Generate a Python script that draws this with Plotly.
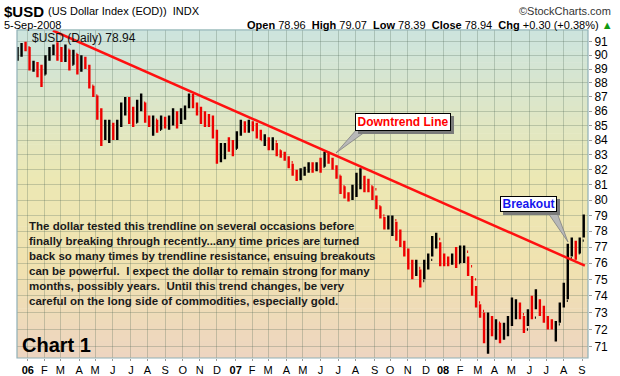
import plotly.graph_objects as go

# ---------------- data (weekly OHLC) ----------------
dates = ["2005-12-16","2005-12-23","2005-12-30","2006-01-06","2006-01-13","2006-01-20","2006-01-27",
"2006-02-03","2006-02-10","2006-02-17","2006-02-24","2006-03-03","2006-03-10","2006-03-17","2006-03-24",
"2006-03-31","2006-04-07","2006-04-14","2006-04-21","2006-04-28","2006-05-05","2006-05-12","2006-05-19",
"2006-05-26","2006-06-02","2006-06-09","2006-06-16","2006-06-23","2006-06-30","2006-07-07","2006-07-14",
"2006-07-21","2006-07-28","2006-08-04","2006-08-11","2006-08-18","2006-08-25","2006-09-01","2006-09-08",
"2006-09-15","2006-09-22","2006-09-29","2006-10-06","2006-10-13","2006-10-20","2006-10-27","2006-11-03",
"2006-11-10","2006-11-17","2006-11-24","2006-12-01","2006-12-08","2006-12-15","2006-12-22","2006-12-29",
"2007-01-05","2007-01-12","2007-01-19","2007-01-26","2007-02-02","2007-02-09","2007-02-16","2007-02-23",
"2007-03-02","2007-03-09","2007-03-16","2007-03-23","2007-03-30","2007-04-06","2007-04-13","2007-04-20",
"2007-04-27","2007-05-04","2007-05-11","2007-05-18","2007-05-25","2007-06-01","2007-06-08","2007-06-15",
"2007-06-22","2007-06-29","2007-07-06","2007-07-13","2007-07-20","2007-07-27","2007-08-03","2007-08-10",
"2007-08-17","2007-08-24","2007-08-31","2007-09-07","2007-09-14","2007-09-21","2007-09-28","2007-10-05",
"2007-10-12","2007-10-19","2007-10-26","2007-11-02","2007-11-09","2007-11-16","2007-11-23","2007-11-30",
"2007-12-07","2007-12-14","2007-12-21","2007-12-28","2008-01-04","2008-01-11","2008-01-18","2008-01-25",
"2008-02-01","2008-02-08","2008-02-15","2008-02-22","2008-02-29","2008-03-07","2008-03-14","2008-03-21",
"2008-03-28","2008-04-04","2008-04-11","2008-04-18","2008-04-25","2008-05-02","2008-05-09","2008-05-16",
"2008-05-23","2008-05-30","2008-06-06","2008-06-13","2008-06-20","2008-06-27","2008-07-04","2008-07-11",
"2008-07-18","2008-07-25","2008-08-01","2008-08-08","2008-08-15","2008-08-22","2008-08-29","2008-09-05"]

highs = [90.6,90.9,91.0,90.6,89.6,89.5,89.3,90.0,90.6,90.8,90.95,90.6,90.8,90.4,90.4,90.1,90.0,89.9,89.3,87.8,
87.1,86.2,85.4,85.4,85.2,85.4,86.6,87.0,87.0,86.3,86.8,87.25,86.6,85.7,85.7,85.4,85.7,85.6,85.7,86.2,
86.0,86.2,86.4,87.25,87.2,86.6,86.3,86.0,85.8,85.7,84.7,83.8,83.8,84.2,84.0,84.6,85.4,85.3,85.4,85.3,
85.2,84.7,84.4,84.2,84.2,83.8,83.3,83.2,82.9,82.4,82.0,82.1,82.2,82.5,82.5,82.5,82.8,83.2,83.2,82.8,
82.3,81.6,80.9,80.5,81.0,81.8,82.1,81.6,81.4,80.9,80.3,79.6,78.9,79.0,79.0,78.6,78.1,77.4,76.9,76.2,
76.2,75.6,76.2,76.6,77.7,77.9,77.3,76.6,76.4,76.6,77.0,77.1,77.1,76.4,75.2,74.6,73.5,73.0,73.0,72.8,
72.6,72.4,72.4,72.8,73.9,73.8,73.6,72.8,73.2,74.0,74.4,73.8,73.4,72.8,72.6,72.5,73.6,74.8,77.2,77.6,
77.4,77.6,79.07]

lows = [89.6,89.9,90.3,88.9,88.8,88.4,87.7,88.6,89.6,90.0,89.6,89.5,89.5,88.9,89.3,88.6,88.8,89.0,87.6,87.0,
85.4,83.6,84.0,83.8,84.0,84.0,84.9,85.7,85.1,84.9,85.2,86.0,85.2,84.9,84.3,84.5,84.7,84.8,84.7,85.0,
84.8,85.1,85.4,86.2,86.2,85.7,85.1,84.9,84.9,84.1,82.4,82.5,82.7,83.2,82.9,83.4,84.3,84.5,84.5,84.6,
84.1,84.0,83.6,83.3,83.3,82.9,82.8,82.6,82.1,81.6,81.25,81.3,81.6,81.8,81.8,81.9,81.8,82.2,82.4,82.0,
81.4,80.4,80.1,79.9,80.0,80.2,80.7,80.5,80.5,80.0,79.4,78.8,78.1,78.1,77.7,77.4,77.0,76.4,75.6,75.0,
75.2,74.5,75.0,75.6,76.4,76.9,75.8,75.8,75.8,75.9,75.7,76.0,76.0,75.2,74.0,73.3,72.7,71.2,70.6,71.6,
71.4,71.2,71.4,71.6,72.2,72.6,72.6,71.8,72.2,72.6,73.2,72.8,72.4,72.0,72.0,71.3,72.4,73.3,73.8,76.4,
76.2,76.6,77.6]

closes = [90.2,90.7,90.6,89.2,89.3,88.6,88.6,89.7,90.3,90.4,89.8,89.6,90.4,89.3,90.1,89.0,89.5,89.2,87.8,87.1,
85.6,84.2,84.8,85.0,84.3,85.1,86.0,86.3,85.2,85.2,86.5,86.6,85.5,85.0,85.4,84.7,85.2,85.1,85.6,85.8,
85.3,85.9,86.3,87.0,86.5,85.8,85.7,85.2,85.1,84.3,82.8,82.9,83.7,83.6,83.4,84.4,85.0,84.9,85.2,84.8,
84.6,84.0,84.1,83.5,83.9,83.3,82.9,82.7,82.5,81.9,81.6,81.9,82.0,82.2,82.1,82.3,82.2,82.8,82.6,82.2,
81.6,80.9,80.4,80.1,80.7,81.2,81.5,81.0,80.9,80.7,79.6,79.0,78.2,78.4,78.7,78.0,77.3,76.6,75.8,75.4,
75.7,74.9,75.9,76.2,77.2,77.5,76.5,76.1,76.0,76.2,76.0,76.1,76.7,75.8,75.0,73.6,73.1,71.8,72.3,72.2,
72.4,71.6,71.9,72.6,73.2,73.3,72.9,72.0,73.1,72.7,73.7,73.0,72.6,72.4,72.2,72.3,73.4,73.7,76.3,77.0,
76.6,77.4,78.94]

opens = [90.0,90.2,90.7,90.6,89.2,89.3,88.6,88.6,89.7,90.3,90.4,89.8,89.6,90.4,89.3,90.1,89.0,89.5,89.2,87.8,
87.1,85.6,84.2,84.8,85.0,84.3,85.1,86.0,86.3,85.2,85.2,86.5,86.6,85.5,85.0,85.4,84.7,85.2,85.1,85.6,
85.8,85.3,85.9,86.3,87.0,86.5,85.8,85.7,85.2,85.1,84.3,82.8,82.9,83.7,83.6,83.4,84.4,85.0,84.9,85.2,
84.8,84.6,84.0,84.1,83.5,83.9,83.3,82.9,82.7,82.5,81.9,81.6,81.9,82.0,82.2,82.1,82.3,82.2,82.8,82.6,
82.2,81.6,80.9,80.4,80.1,80.7,81.2,81.5,81.0,80.9,80.7,79.6,79.0,78.2,78.4,78.7,78.0,77.3,76.6,75.8,
75.4,75.7,74.9,75.9,76.2,77.2,77.5,76.5,76.1,76.0,76.2,76.0,76.1,76.7,75.8,75.0,73.6,73.1,71.8,72.3,
72.2,72.4,71.6,71.9,72.6,73.2,73.3,72.9,72.0,73.1,72.7,73.7,73.0,72.6,72.4,72.2,72.3,73.4,73.7,76.3,
77.0,76.6,77.4]

trend_dates = ["2006-02-16", "2008-09-07"]
trend_values = [91.83, 75.84]

month_ticks = ["2006-01-03","2006-02-01","2006-03-01","2006-04-03","2006-05-01","2006-06-01","2006-07-03",
"2006-08-01","2006-09-01","2006-10-02","2006-11-01","2006-12-01","2007-01-03","2007-02-01","2007-03-01",
"2007-04-02","2007-05-01","2007-06-01","2007-07-02","2007-08-01","2007-09-04","2007-10-01","2007-11-01",
"2007-12-03","2008-01-02","2008-02-01","2008-03-03","2008-04-01","2008-05-01","2008-06-02","2008-07-01",
"2008-08-01","2008-09-02"]
month_labels = ["<b>06</b>","F","M","A","M","J","J","A","S","O","N","D",
"<b>07</b>","F","M","A","M","J","J","A","S","O","N","D",
"<b>08</b>","F","M","A","M","J","J","A","S"]
price_ticks = list(range(71, 92))
price_labels = [str(v) for v in price_ticks]

# ---------------- layout geometry ----------------
W, H = 620, 376
L, R, T, B = 17, 588, 30, 358
PW, PH = R - L, B - T
def px(xp): return (xp - L) / PW
def py(yp): return (B - yp) / PH

FONT = "Liberation Sans, Arial, sans-serif"

fig = go.Figure()

fig.add_trace(go.Ohlc(
    x=dates, open=opens, high=highs, low=lows, close=closes,
    increasing=dict(line=dict(color="#000000", width=2.4)),
    decreasing=dict(line=dict(color="#ee0000", width=2.4)),
    tickwidth=0.25, showlegend=False, hoverinfo="skip"))

fig.add_trace(go.Scatter(
    x=trend_dates, y=trend_values, mode="lines",
    line=dict(color="#ff1010", width=2.5), showlegend=False, hoverinfo="skip"))

# ---------------- background gradient (bands) ----------------
stops = [(0.0, (204, 228, 222)), (0.45, (236, 232, 180)), (0.72, (240, 226, 176)), (1.0, (237, 213, 193))]
def grad(t):
    for (t0, c0), (t1, c1) in zip(stops[:-1], stops[1:]):
        if t0 <= t <= t1:
            f = (t - t0) / (t1 - t0)
            return tuple(int(round(a + (b - a) * f)) for a, b in zip(c0, c1))
    return stops[-1][1]

shapes = []
N = 60
for i in range(N):
    t = (i + 0.5) / N
    c = grad(t)
    shapes.append(dict(type="rect", xref="paper", yref="paper", layer="below",
                       x0=0, x1=1, y0=1 - (i + 1) / N, y1=1 - i / N + 0.002,
                       fillcolor="rgb(%d,%d,%d)" % c, line=dict(width=0)))
shapes.append(dict(type="rect", xref="paper", yref="paper", x0=0, x1=1, y0=0, y1=1,
                   line=dict(color="#8fb0b6", width=1.2), layer="above"))

def rect_px(x0, y0, x1, y1, color):
    return dict(type="rect", xref="paper", yref="paper", x0=px(x0), x1=px(x1),
                y0=py(y1), y1=py(y0), fillcolor=color, line=dict(width=0), layer="above")
def tri_px(pts, fill, edge):
    d = "M " + " L ".join("%f %f" % (px(a), py(b)) for a, b in pts) + " Z"
    return dict(type="path", xref="paper", yref="paper", path=d, fillcolor=fill,
                line=dict(color=edge, width=0.8), layer="above")

shapes.append(tri_px([(357, 129), (369, 129), (336, 153)], "#b8b8b8", "#808080"))
shapes.append(rect_px(358, 116, 454, 134, "#7a7a7a"))
shapes.append(tri_px([(546, 210), (556, 210), (568, 242)], "#b8b8b8", "#808080"))
shapes.append(rect_px(503, 199, 560, 215, "#7a7a7a"))

annotations = [
    dict(text="<b>$USD</b>", x=px(2), y=py(11), xanchor="left", yanchor="middle",
         font=dict(size=15, color="#000", family=FONT)),
    dict(text="(US Dollar Index (EOD))  INDX", x=px(46), y=py(11), xanchor="left", yanchor="middle",
         font=dict(size=11, color="#000", family=FONT)),
    dict(text="\u00a9StockCharts.com", x=px(613), y=py(11), xanchor="right", yanchor="middle",
         font=dict(size=11, color="#333", family=FONT)),
    dict(text="5-Sep-2008", x=px(2), y=py(25), xanchor="left", yanchor="middle",
         font=dict(size=11, color="#000", family=FONT)),
    dict(text="<b>Open</b> 78.96  <b>High</b> 79.07  <b>Low</b> 78.39  <b>Close</b> 78.94  <b>Chg</b> +0.30 (+0.38%) "
              "<span style='color:#119911'>\u25b2</span>",
         x=px(615), y=py(25), xanchor="right", yanchor="middle",
         font=dict(size=11, color="#000", family=FONT)),
    dict(text="$USD (Daily) 78.94", x=px(30), y=py(38), xanchor="left", yanchor="middle",
         font=dict(size=12, color="#111", family=FONT)),
    dict(text="<b>The dollar tested this trendline on several occasions before<br>"
              "finally breaking through recently...any time prices are turned<br>"
              "back so many times by trendline resistance, ensuing breakouts<br>"
              "can be powerful.  I expect the dollar to remain strong for many<br>"
              "months, possibly years.  Until this trend changes, be very<br>"
              "careful on the long side of commodities, especially gold.</b>",
         x=px(27), y=py(218), xanchor="left", yanchor="top", align="left",
         font=dict(size=11.5, color="#1a1a1a", family=FONT)),
    dict(text="<b>Chart 1</b>", x=px(20), y=py(345), xanchor="left", yanchor="middle",
         font=dict(size=20, color="#000", family=FONT)),
    dict(text="<b>Downtrend Line</b>", x=px(403), y=py(122), xanchor="center", yanchor="middle",
         width=92, height=14, bgcolor="#ffffff", bordercolor="#000000", borderwidth=1, borderpad=1,
         font=dict(size=12, color="#ff0000", family=FONT)),
    dict(text="<b>Breakout</b>", x=px(528.5), y=py(204), xanchor="center", yanchor="middle",
         width=53, height=12, bgcolor="#ffffff", bordercolor="#000000", borderwidth=1, borderpad=1,
         font=dict(size=12, color="#1515ee", family=FONT)),
]
for a in annotations:
    a.update(xref="paper", yref="paper", showarrow=False)

grid = "rgba(80,105,85,0.28)"
fig.update_layout(
    template="none",
    width=W, height=H, autosize=False,
    margin=dict(l=L, r=W - R, t=T, b=H - B, pad=0, autoexpand=False),
    paper_bgcolor="#ffffff", plot_bgcolor="rgba(0,0,0,0)",
    font=dict(family=FONT),
    shapes=shapes, annotations=annotations, showlegend=False,
    xaxis=dict(type="date", range=["2005-12-15", "2008-09-12 12:00"],
               tickmode="array", tickvals=month_ticks, ticktext=month_labels,
               showgrid=True, gridcolor=grid, gridwidth=1, zeroline=False,
               ticks="outside", ticklen=2, tickcolor="#999", automargin=False,
               tickfont=dict(size=11, color="#000", family=FONT),
               rangeslider=dict(visible=False), showline=False, fixedrange=True),
    yaxis=dict(type="log", side="right",
               range=[1.84727, 1.96317],
               tickmode="array", tickvals=price_ticks, ticktext=price_labels,
               showgrid=True, gridcolor=grid, gridwidth=1, zeroline=False,
               ticks="outside", ticklen=3, tickcolor="#999", automargin=False,
               tickfont=dict(size=12, color="#000", family=FONT),
               showline=False, fixedrange=True),
)

fig.write_html("out.html", config={"responsive": False, "displayModeBar": False},
               post_script="document.body.style.margin='0';document.body.style.overflow='hidden';")
